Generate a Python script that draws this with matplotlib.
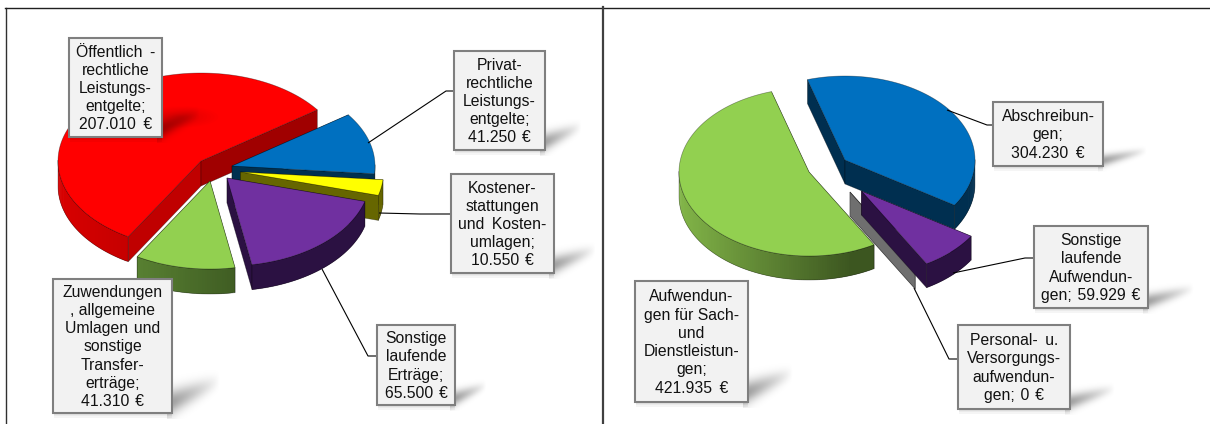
"""
Two exploded pseudo-3D pies with callout boxes (Ertraege / Aufwendungen).
Drawn by hand on one pixel-sized axes, since matplotlib has no extruded pie.
"""

import numpy as np
import matplotlib
matplotlib.use("Agg")
import matplotlib.pyplot as plt

plt.rcParams["font.family"] = ["Liberation Sans", "DejaVu Sans"]

# data (the source justifies its text, so some word gaps are a bit wider)
left_values = [207010, 41250, 10550, 65500, 41310]
left_labels = [
    "Öffentlich \u2009-\nrechtliche\nLeistungs-\nentgelte;\n207.010 \u2009€",
    "Privat-\nrechtliche\nLeistungs-\nentgelte;\n41.250 \u200a€",
    "Kostener-\nstattungen\nund \u2009Kosten-\numlagen;\n10.550 \u200a€",
    "Sonstige\nlaufende\nErträge;\n65.500 \u200a€",
    "Zuwendungen\n, allgemeine\nUmlagen \u200aund\nsonstige\nTransfer-\nerträge;\n41.310 \u200a€",
]
right_values = [304230, 59929, 0, 421935]
right_labels = [
    "Abschreibun-\ngen;\n304.230 \u2009€",
    "Sonstige\nlaufende\nAufwendun-\ngen; \u200a59.929 \u200a€",
    "Personal- \u2009u.\nVersorgungs-\naufwendun-\ngen; \u200a0 \u200a€",
    "Aufwendun-\ngen für Sach-\nund\nDienstleistun-\ngen;\n421.935 \u2009€",
]

# layout, all in pixels of the 1210x424 picture
LEFT = dict(
    rx=143, ry=88, depth=25, start=239.4, order=[0, 1, 2, 3, 4],
    apex=[(201, 161), (232, 166), (240.5, 172), (227, 178), (210, 181)],
    top=["#ff0000", "#0070c0", "#ffff00", "#7030a0", "#92d050"],
    face=[("#c00000", "#a00000"), ("#003050", "#003050"), ("#666600", "#666600"),
          ("#2b1142", "#2b1142"), ("#3f5a20", "#3f5a20")],
    rim=[("#d80000", "#a80000"), ("#003050", "#003050"), ("#7a7a00", "#666600"),
         ("#2b1142", "#2b1142"), ("#6a9a3c", "#3a5520")],
    boxes=[(69, 38, 162, 137), (454, 51, 545, 150), (451, 174, 554, 273),
           (377, 325, 455, 405), (53, 279, 172, 413)],
    leaders=[None, [(368, 143), (446, 91), (454, 91)], [(379, 213), (420, 214), (451, 214)],
             [(322, 269), (368, 356), (377, 356)], None],
)
RIGHT = dict(
    rx=130, ry=84, depth=24, start=106.8, order=[3, 2, 1, 0],
    apex=[(845, 160), (861.5, 191), (850, 192), (809, 172)],
    top=["#0070c0", "#7030a0", "#7f7f7f", "#92d050"],
    face=[("#002f50", "#002f50"), ("#2b1142", "#2b1142"), ("#6f6f6f", "#6f6f6f"),
          ("#3f5a20", "#3f5a20")],
    rim=[("#002f50", "#002f50"), ("#2b1142", "#2b1142"), ("#6f6f6f", "#6f6f6f"),
         ("#82b548", "#3c5620")],
    boxes=[(993, 102, 1103, 166), (1034, 226, 1148, 308), (958, 325, 1070, 409),
           (635, 281, 748, 402)],
    leaders=[[(947, 110), (987, 125), (993, 125)], [(953, 273), (1025, 258), (1034, 258)],
             [(914, 288), (949, 359), (958, 359)], None],
)


def mix(c1, c2, t):
    a = np.array(matplotlib.colors.to_rgb(c1))
    b = np.array(matplotlib.colors.to_rgb(c2))
    return tuple(a + (b - a) * t)


def draw_slice(ax, apex, rx, ry, depth, a_from, a_to, top, face, rim):
    # a_from > a_to, the pie runs clockwise
    cx, cy = apex
    th = np.radians(np.linspace(a_from, a_to, max(int(abs(a_from - a_to)) + 2, 2)))
    xs = cx + rx * np.cos(th)
    ys = cy - ry * np.sin(th)
    edge = dict(edgecolor="#00000060", linewidth=0.5)

    for (px, py), col in zip([(xs[0], ys[0]), (xs[-1], ys[-1])], face):
        ax.fill([cx, px, px, cx], [cy, py, py + depth, cy + depth], facecolor=col, **edge)

    # rim strip, only where it faces the viewer
    front = np.where(np.sin(th) < 0.02)[0]
    if len(front) > 1:
        for i, j in zip(front[:-1], front[1:]):
            k = min(j + 1, front[-1])  # overlap one step so no seams show
            t = (xs[i] - (cx - rx)) / (2 * rx)
            col = mix(rim[0], rim[1], min(t * 1.5, 1))
            ax.fill([xs[i], xs[k], xs[k], xs[i]], [ys[i], ys[k], ys[k] + depth, ys[i] + depth],
                    facecolor=col, edgecolor="none")
        bx = np.concatenate([xs[front], xs[front][::-1]])
        by = np.concatenate([ys[front], ys[front][::-1] + depth])
        ax.fill(bx, by, facecolor="none", **edge)

    ax.fill(np.r_[cx, xs], np.r_[cy, ys], facecolor=top, **edge)


def draw_shadow(ax, x0, y0, x1, y1):
    # soft streak running from the box's lower right corner to the upper right
    w, h = x1 - x0, y1 - y0
    tip_x, tip_y = 0.38 * w, 0.24 * h
    gx, gy = np.meshgrid(np.linspace(x1 - 5, x1 + tip_x + 8, 70), np.linspace(y1 - tip_y - 10, y1 + 6, 50))
    u = (gx - x1) / tip_x
    mid = y1 - 0.08 * h - (tip_y - 0.09 * h) * u
    half = 0.09 * h * (1 - 0.35 * np.clip(u, 0, 1))
    a = 0.36 * np.clip(1.05 - u, 0, 1) ** 0.9 * np.exp(-((gy - mid) / half) ** 2)
    img = np.zeros(a.shape + (4,))
    img[..., 3] = a
    ax.imshow(img, extent=(gx.min(), gx.max(), gy.max(), gy.min()), aspect="auto",
              interpolation="bilinear", zorder=5)
    for d in [1.5, 3, 4.5]:
        ax.fill([x0 + 1, x1, x1, x0 + 1], [y1, y1, y1 + d, y1 + d],
                facecolor="black", edgecolor="none", alpha=0.04, zorder=5)


def draw_pie(ax, values, labels, cfg):
    fracs = np.array(values, dtype=float) / sum(values)
    ends = cfg["start"] - 360 * np.cumsum(fracs)
    starts = np.r_[cfg["start"], ends[:-1]]
    for i in cfg["order"]:
        draw_slice(ax, cfg["apex"][i], cfg["rx"], cfg["ry"], cfg["depth"], starts[i], ends[i],
                   cfg["top"][i], cfg["face"][i], cfg["rim"][i])

    for leader in cfg["leaders"]:
        if leader:
            ax.plot(*zip(*leader), color="black", linewidth=0.8, zorder=6, solid_capstyle="butt")

    for label, (x0, y0, x1, y1) in zip(labels, cfg["boxes"]):
        draw_shadow(ax, x0, y0, x1, y1)
        ax.fill([x0, x1, x1, x0], [y0, y0, y1, y1], facecolor="#f2f2f2",
                edgecolor="#7f7f7f", linewidth=1.5, zorder=7)
        ax.text((x0 + x1) / 2, (y0 + y1) / 2 + 1, label, ha="center", va="center",
                fontsize=11.3, linespacing=1.27, color="#111111", zorder=8)


def main():
    fig = plt.figure(figsize=(12.1, 4.24), dpi=100)
    ax = fig.add_axes([0, 0, 1, 1])

    draw_pie(ax, left_values, left_labels, LEFT)
    draw_pie(ax, right_values, right_labels, RIGHT)

    # faint dark spot on the red top surface
    th = np.linspace(0, 2 * np.pi, 60)
    for r in np.linspace(3, 24, 10):
        ax.fill(180 + r * 1.6 * np.cos(th), 117 + r * 0.45 * np.sin(th), facecolor="black",
                edgecolor="none", alpha=0.012, zorder=2)

    # frames
    ax.plot([5.5, 5.5], [7.5, 424], color="#303030", linewidth=1.0)
    ax.plot([5, 1210], [7.5, 7.5], color="#202020", linewidth=1.0)
    ax.plot([602.5, 602.5], [7, 424], color="#404040", linewidth=1.6)

    ax.set_xlim(0, 1210)
    ax.set_ylim(424, 0)
    ax.axis("off")
    fig.savefig("out.png", dpi=100)


if __name__ == "__main__":
    main()
